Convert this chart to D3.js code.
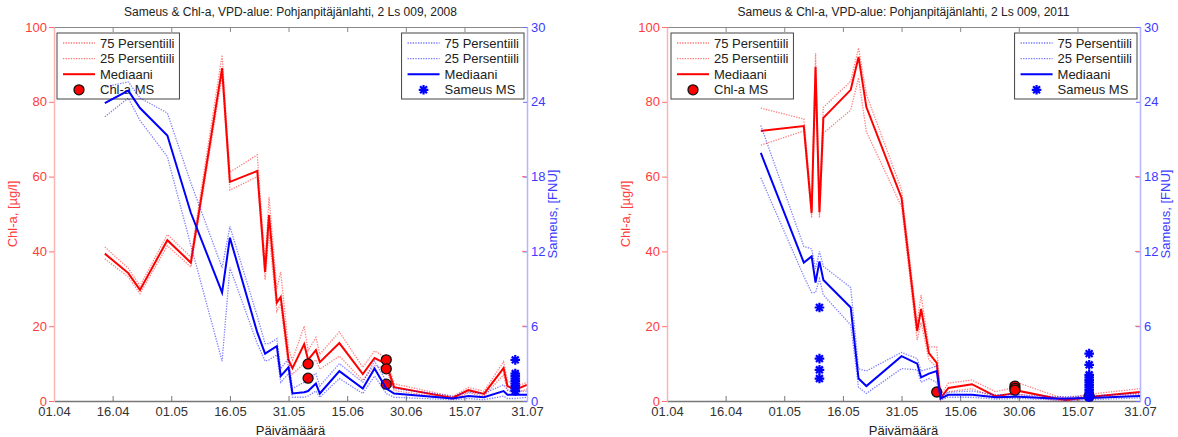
<!DOCTYPE html>
<html>
<head>
<meta charset="utf-8">
<script src="https://cdn.jsdelivr.net/npm/d3@7"></script>
<style>
  body { margin: 0; background: #fff; }
  text { font-family: "Liberation Sans", Arial, sans-serif; }
</style>
</head>
<body>
<svg id="chart" width="1178" height="437"></svg>
<script>
// axis ticks
let tickLabels = ['01.04', '16.04', '01.05', '16.05', '31.05', '15.06', '30.06', '15.07', '31.07']
let chlTicks = [0, 20, 40, 60, 80, 100]
let fnuTicks = [0, 6, 12, 18, 24, 30]

// 2008
let dates2008 = ['14.04', '20.04', '23.04', '30.04', '06.05', '14.05', '16.05', '23.05', '25.05', '26.05',
                 '28.05', '29.05', '31.05', '01.06', '04.06', '05.06', '07.06', '08.06', '13.06', '19.06',
                 '22.06', '25.06', '27.06', '12.07', '16.07', '20.07', '25.07', '26.07', '28.07', '31.07']
let chlMed2008 = [39.4, 34.2, 29.7, 43, 37, 89, 58.6, 61.5, 34.5, 49.7, 26.3, 27.8, 11, 8.8, 15.2, 11, 13.6, 10.4, 15.5, 7.2,
                  11.5, 9.9, 3.7, 0.8, 2.9, 1.9, 8.8, 4, 3, 4.3]
let chlP75_2008 = [41.2, 35.5, 30.8, 44.5, 38.5, 92.5, 61.2, 65.8, 37, 54.5, 30, 34.5, 14, 11, 20, 13.5, 17, 12.5, 18.5, 9,
                   13.4, 11.5, 4.6, 1.2, 3.6, 2.6, 10.5, 5.5, 3.8, 5]
let chlP25_2008 = [38, 33.2, 28.7, 41.5, 35.8, 87, 56.4, 60, 32.4, 45, 24, 26, 8.5, 7.2, 10, 9, 11, 8.5, 12, 5.5,
                   9.5, 8.5, 2.8, 0.5, 2.2, 1.3, 7, 2.8, 2, 3.2]
let fnuMed2008 = [23.9, 24.9, 23.5, 21.3, 15.1, 8.7, 13.1, 5.5, 3.8, 4.0, 4.4, 2.0, 2.7, 0.6, 0.7, 0.8, 1.4, 0.6, 2.4, 1.0,
                  2.6, 1.0, 0.6, 0.2, 0.4, 0.3, 0.8, 0.5, 0.5, 0.5]
let fnuP75_2008 = [25.2, 25.6, 24.3, 23.1, 17.5, 10.7, 14, 6.8, 4.6, 4.6, 5.0, 2.6, 3.4, 1.0, 1.5, 1.8, 2.2, 1.2, 3.0, 1.5,
                   3.2, 1.6, 1.0, 0.4, 0.7, 0.6, 1.3, 0.9, 0.8, 0.8]
let fnuP25_2008 = [22.8, 24.3, 22.5, 19.6, 12.5, 3.2, 10.7, 4.6, 3.2, 3.3, 3.7, 1.5, 2.2, 0.3, 0.3, 0.4, 0.8, 0.3, 1.8, 0.6,
                   2.0, 0.6, 0.3, 0.1, 0.2, 0.1, 0.4, 0.2, 0.2, 0.3]
let chlMsDates2008 = ['05.06', '05.06', '25.06', '25.06', '25.06']
let chlMsValues2008 = [9.9, 6.1, 11, 8.6, 4.5]
let fnuMsDates2008 = ['28.07', '28.07', '28.07', '28.07', '28.07', '28.07', '28.07', '28.07', '28.07']
let fnuMsValues2008 = [3.3, 2.2, 2.0, 1.8, 1.6, 1.4, 1.2, 1.0, 0.8]

// 2011
let dates2011 = ['25.04', '06.05', '08.05', '09.05', '10.05', '11.05', '18.05', '20.05', '22.05', '31.05',
                 '04.06', '05.06', '07.06', '09.06', '10.06', '12.06', '18.06', '24.06', '29.06', '30.06',
                 '09.07', '12.07', '18.07', '31.07']
let chlMed2011 = [72.2, 73.5, 50.3, 89.3, 50.5, 75.7, 83.2, 92, 78.6, 54.3, 18.7, 24.6, 12.8, 10.2, 0.8, 3.5, 4.5, 1.3, 2.1, 2.7,
                  0.8, 0.3, 1.1, 2.4]
let chlP75_2011 = [78.3, 75.4, 52.5, 93, 52.5, 78.5, 85.5, 94.4, 82, 56.5, 21, 28.3, 14.5, 14.4, 1.5, 4.8, 5.6, 2.5, 3.6, 4.8,
                   1.5, 0.8, 1.8, 3.3]
let chlP25_2011 = [68.4, 72.2, 49, 85, 49, 71.6, 77.8, 86.4, 72, 52, 16.3, 21, 11, 9, 0.3, 2.5, 3.3, 0.8, 1.2, 1.8,
                   0.2, 0, 0.6, 1.7]
let fnuMed2011 = [19.9, 11.1, 11.6, 9.5, 11.2, 9.7, 7.5, 1.8, 1.2, 3.6, 3.0, 1.9, 2.2, 2.4, 0.2, 0.5, 0.5, 0.3, 0.35, 0.35,
                  0.2, 0.2, 0.25, 0.4]
let fnuP75_2011 = [22.1, 12.4, 12.2, 10.6, 12.0, 10.8, 9.1, 2.6, 2.4, 3.9, 3.4, 2.4, 2.6, 2.8, 0.4, 0.7, 0.8, 0.5, 0.5, 0.5,
                   0.35, 0.35, 0.4, 0.6]
let fnuP25_2011 = [17.9, 10.0, 8.7, 8.7, 9.8, 8.5, 6.1, 1.1, 0.6, 2.6, 2.5, 1.5, 1.8, 1.5, 0.1, 0.3, 0.3, 0.15, 0.2, 0.2,
                   0.1, 0.05, 0.1, 0.25]
let chlMsDates2011 = ['09.06', '29.06', '29.06', '29.06', '18.07']
let chlMsValues2011 = [2.4, 4.0, 3.4, 2.9, 1.3]
let fnuMsDates2011 = ['10.05', '10.05', '10.05', '10.05',
                      '18.07', '18.07', '18.07', '18.07', '18.07', '18.07', '18.07', '18.07', '18.07', '18.07', '18.07', '18.07']
let fnuMsValues2011 = [7.5, 3.4, 2.5, 1.8,
                       3.8, 2.9, 2.1, 1.9, 1.7, 1.5, 1.3, 1.1, 0.9, 0.7, 0.5, 0.3]

let RED = '#ff0000', BLUE = '#0000ff'
let RED_TXT = '#ff3b3b', BLUE_TXT = '#3b3bff'
let STAR = 4.8
let svg = d3.select('#chart')
svg.append('rect').attr('width', 1178).attr('height', 437).attr('fill', '#fff')

function starPath(s) {
    let d = s * 0.72
    return `M${-s},0L${s},0M0,${-s}L0,${s}M${-d},${-d}L${d},${d}M${-d},${d}L${d},${-d}`
}

function legend(g, x0, y0, color, lastLabel, marker, alignRight) {
    let lg = g.append('g')
    let box = lg.append('rect').attr('fill', '#fff').attr('stroke', '#444').attr('stroke-width', 1)
    let labels = ['75 Persentiili', '25 Persentiili', 'Mediaani', lastLabel]
    let maxW = 0
    labels.forEach((lab, i) => {
        let cy = 10 + i * 15.6
        if (i < 2) {
            lg.append('line').attr('x1', 6).attr('x2', 38).attr('y1', cy).attr('y2', cy)
              .attr('stroke', color).attr('stroke-opacity', 0.55).attr('stroke-width', 1.3).attr('stroke-dasharray', '1.3,1.3')
        } else if (i === 2) {
            lg.append('line').attr('x1', 6).attr('x2', 38).attr('y1', cy).attr('y2', cy)
              .attr('stroke', color).attr('stroke-width', 2)
        } else if (marker === 'circle') {
            lg.append('circle').attr('cx', 22).attr('cy', cy).attr('r', 5)
              .attr('fill', RED).attr('stroke', '#111').attr('stroke-width', 1.3)
        } else {
            lg.append('path').attr('d', starPath(STAR)).attr('transform', `translate(22,${cy})`)
              .attr('stroke', BLUE).attr('stroke-width', 2.2).attr('fill', 'none')
        }
        let t = lg.append('text').attr('x', 43).attr('y', cy + 4.6).attr('font-size', 13).attr('fill', '#222').text(lab)
        maxW = Math.max(maxW, t.node().getComputedTextLength())
    })
    let w = 43 + maxW + 5, h = 66
    box.attr('width', w).attr('height', h)
    let tx = alignRight ? x0 - w : x0
    lg.attr('transform', `translate(${tx},${y0})`)
}

function drawPanel(p) {
    let parse = s => d3.utcParse('%d.%m.%Y')(s + '.' + p.year)
    let left = p.left, right = p.left + 473, top = 27, bottom = 401
    let x = d3.scaleUtc().domain([parse('01.04'), parse('31.07')]).range([left, right])
    let yChl = d3.scaleLinear().domain([0, 100]).range([bottom, top])
    let yFnu = d3.scaleLinear().domain([0, 30]).range([bottom, top])
    let tickDates = tickLabels.map(parse)
    let g = svg.append('g')

    // title
    g.append('text').attr('x', (left + right) / 2).attr('y', 16).attr('text-anchor', 'middle')
     .attr('font-size', 12).attr('fill', '#222')
     .text('Sameus & Chl-a, VPD-alue: Pohjanpitäjänlahti, 2 Ls 009, ' + p.year)

    // bottom and top axes
    let xb = g.append('g').attr('transform', `translate(0,${bottom})`)
        .call(d3.axisBottom(x).tickValues(tickDates).tickFormat((d, i) => tickLabels[i]).tickSizeInner(-5).tickSizeOuter(0).tickPadding(6))
    xb.select('.domain').attr('stroke', '#777').attr('stroke-width', 1.5)
    xb.selectAll('.tick line').attr('stroke', '#777')
    xb.selectAll('text').attr('font-size', 13).attr('fill', '#333')
    let xt = g.append('g').attr('transform', `translate(0,${top})`)
        .call(d3.axisTop(x).tickValues(tickDates).tickFormat('').tickSizeInner(-5).tickSizeOuter(0))
    xt.select('.domain').attr('stroke', '#888')
    xt.selectAll('.tick line').attr('stroke', '#888')

    g.append('text').attr('x', (left + right) / 2).attr('y', 435).attr('text-anchor', 'middle')
     .attr('font-size', 13).attr('fill', '#222').text('Päivämäärä')

    // left (Chl-a) axis
    let yl = g.append('g').attr('transform', `translate(${left},0)`)
        .call(d3.axisLeft(yChl).tickValues(chlTicks).tickSizeInner(5).tickSizeOuter(0).tickPadding(2))
    yl.select('.domain').attr('stroke', '#ffb4b4').attr('stroke-width', 1.5)
    yl.selectAll('.tick line').attr('stroke', '#ff7070')
    yl.selectAll('text').attr('font-size', 13).attr('fill', RED_TXT)
    g.append('text').attr('transform', `translate(${left - 37},${(top + bottom) / 2}) rotate(-90)`)
     .attr('text-anchor', 'middle').attr('font-size', 13).attr('fill', RED_TXT).text('Chl-a, [µg/l]')

    // red series
    let pts = (dates, vals) => dates.map((d, i) => ({ date: parse(d), v: vals[i] }))
    let chlLine = d3.line().x(d => x(d.date)).y(d => yChl(d.v))
    let fnuLine = d3.line().x(d => x(d.date)).y(d => yFnu(d.v))
    ;[p.chlP75, p.chlP25].forEach(vals => {
        g.append('path').datum(pts(p.dates, vals)).attr('d', chlLine).attr('fill', 'none')
         .attr('stroke', RED).attr('stroke-opacity', 0.5).attr('stroke-width', 1.3).attr('stroke-dasharray', '1.3,1.3')
    })
    g.append('path').datum(pts(p.dates, p.chlMed)).attr('d', chlLine).attr('fill', 'none')
     .attr('stroke', RED).attr('stroke-width', 2)
    g.selectAll(null).data(pts(p.chlMsDates, p.chlMsValues)).enter().append('circle')
     .attr('cx', d => x(d.date)).attr('cy', d => yChl(d.v)).attr('r', 5)
     .attr('fill', RED).attr('stroke', '#111').attr('stroke-width', 1.3)

    legend(g, left + p.redLegendDx, 33, RED, 'Chl-a MS', 'circle', false)

    // right (Sameus) axis
    let yr = g.append('g').attr('transform', `translate(${right},0)`)
        .call(d3.axisRight(yFnu).tickValues(fnuTicks).tickSizeInner(-4).tickSizeOuter(0).tickPadding(4))
    yr.select('.domain').attr('stroke', '#b4b4ff').attr('stroke-width', 1.5)
    yr.selectAll('.tick line').attr('stroke', '#7070ff')
    yr.selectAll('text').attr('font-size', 13).attr('fill', BLUE_TXT)
    g.selectAll(null).data(chlTicks.slice(1, 4)).enter().append('line')
     .attr('x1', right - 5).attr('x2', right - 1).attr('y1', d => yChl(d)).attr('y2', d => yChl(d))
     .attr('stroke', '#ff7070')
    g.append('text').attr('transform', `translate(${right + 30},${(top + bottom) / 2}) rotate(-90)`)
     .attr('text-anchor', 'middle').attr('font-size', 13).attr('fill', BLUE_TXT).text('Sameus, [FNU]')

    // blue series
    ;[p.fnuP75, p.fnuP25].forEach(vals => {
        g.append('path').datum(pts(p.dates, vals)).attr('d', fnuLine).attr('fill', 'none')
         .attr('stroke', BLUE).attr('stroke-opacity', 0.5).attr('stroke-width', 1.3).attr('stroke-dasharray', '1.3,1.3')
    })
    g.append('path').datum(pts(p.dates, p.fnuMed)).attr('d', fnuLine).attr('fill', 'none')
     .attr('stroke', BLUE).attr('stroke-width', 2)
    g.selectAll(null).data(pts(p.fnuMsDates, p.fnuMsValues)).enter().append('path')
     .attr('d', starPath(STAR)).attr('transform', d => `translate(${x(d.date)},${yFnu(d.v)})`)
     .attr('stroke', BLUE).attr('stroke-width', 2.2).attr('fill', 'none')

    legend(g, right - 3, 33, BLUE, 'Sameus MS', 'star', true)
}

drawPanel({
    year: 2008, left: 54, redLegendDx: 3,
    dates: dates2008,
    chlMed: chlMed2008, chlP75: chlP75_2008, chlP25: chlP25_2008,
    fnuMed: fnuMed2008, fnuP75: fnuP75_2008, fnuP25: fnuP25_2008,
    chlMsDates: chlMsDates2008, chlMsValues: chlMsValues2008,
    fnuMsDates: fnuMsDates2008, fnuMsValues: fnuMsValues2008,
})
drawPanel({
    year: 2011, left: 667, redLegendDx: 4,
    dates: dates2011,
    chlMed: chlMed2011, chlP75: chlP75_2011, chlP25: chlP25_2011,
    fnuMed: fnuMed2011, fnuP75: fnuP75_2011, fnuP25: fnuP25_2011,
    chlMsDates: chlMsDates2011, chlMsValues: chlMsValues2011,
    fnuMsDates: fnuMsDates2011, fnuMsValues: fnuMsValues2011,
})
</script>
</body>
</html>
